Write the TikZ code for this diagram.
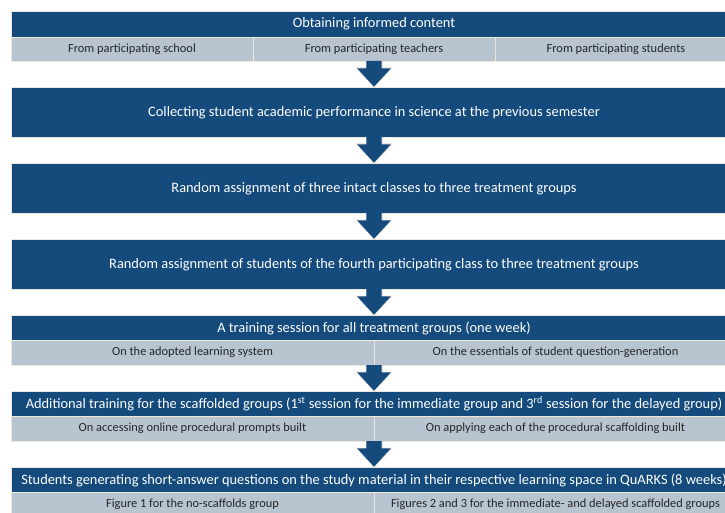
\documentclass[tikz,border=0pt]{standalone}
\usepackage{fontspec}
\setmainfont{Carlito}
\usetikzlibrary{positioning,calc}
\definecolor{headblue}{RGB}{20,74,124}
\definecolor{subgrey}{RGB}{185,196,209}
\definecolor{glow}{RGB}{236,232,220}
\definecolor{subtext}{RGB}{38,38,38}
\tikzset{
  headrow/.style={fill=headblue,draw=glow,line width=0.8pt,outer sep=0pt,text=white,inner sep=0pt,
    minimum width=726pt,minimum height=25pt,font=\fontsize{14.4}{16}\selectfont},
  bigbox/.style={headrow,minimum height=49.5pt},
  subcell/.style={fill=subgrey,draw=glow,line width=0.8pt,outer sep=0pt,text=subtext,inner sep=0pt,
    minimum height=24.5pt,font=\fontsize{12.4}{14}\selectfont},
  blockarrow/.style={fill=headblue,draw=glow,line width=0.8pt}
}
\begin{document}
\begin{tikzpicture}[x=1pt,y=1pt]
  \useasboundingbox (0,0) rectangle (725,-513);
  \clip (0,0) rectangle (725,-513);
  % informed content
  \node[headrow,minimum height=26pt] (h1) at (374,-24) {Obtaining informed content};
  \node[subcell,minimum width=242pt,minimum height=24pt,below=0pt of h1] (s1b) {From participating teachers};
  \node[subcell,minimum width=242pt,minimum height=24pt,left=0pt of s1b] (s1a) {From participating school};
  \node[subcell,minimum width=242pt,minimum height=24pt,right=0pt of s1b] (s1c) {From participating students};
  % single steps
  \node[bigbox,below=26.5pt of s1b] (h2) {Collecting student academic performance in science at the previous semester};
  \node[bigbox,below=26.5pt of h2] (h3) {Random assignment of three intact classes to three treatment groups};
  \node[bigbox,below=26.5pt of h3] (h4) {Random assignment of students of the fourth participating class to three treatment groups};
  % training
  \node[headrow,below=26.5pt of h4] (h5) {A training session for all treatment groups (one week)};
  \node[subcell,minimum width=363pt,below right=0pt of h5.south west] (s5a) {On the adopted learning system};
  \node[subcell,minimum width=363pt,right=0pt of s5a] (s5b) {On the essentials of student question-generation};
  \node[headrow,below=26.5pt of s5a.south east] (h6) {Additional training for the scaffolded groups (1\textsuperscript{st} session for the immediate group and 3\textsuperscript{rd} session for the delayed group)};
  \node[subcell,minimum width=363pt,below right=0pt of h6.south west] (s6a) {On accessing online procedural prompts built};
  \node[subcell,minimum width=363pt,right=0pt of s6a] (s6b) {On applying each of the procedural scaffolding built};
  % question generation
  \node[headrow,below=26.5pt of s6a.south east] (h7) {Students generating short-answer questions on the study material in their respective learning space in QuARKS (8 weeks)};
  \node[subcell,minimum width=363pt,below right=0pt of h7.south west] (s7a) {Figure 1 for the no-scaffolds group};
  \node[subcell,minimum width=363pt,right=0pt of s7a] (s7b) {Figures 2 and 3 for the immediate- and delayed scaffolded groups};
  % arrows
  \foreach \a/\b in {s1b.south/h2,h2.south/h3,h3.south/h4,h4.south/h5,s5a.south east/h6,s6a.south east/h7}
    \draw[blockarrow] ($(\a)+(-8,0)$) -- ($(\a)+(-8,-7)$) -- ($(\a)+(-18,-7)$) -- (\b.north)
      -- ($(\a)+(18,-7)$) -- ($(\a)+(8,-7)$) -- ($(\a)+(8,0)$);
\end{tikzpicture}
\end{document}
